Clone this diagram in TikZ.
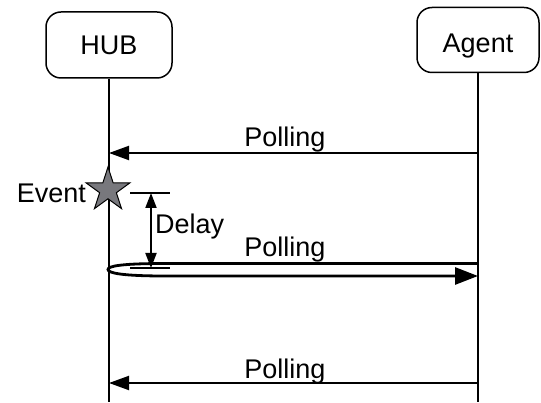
\documentclass[tikz,border=0pt]{standalone}
\usepackage{fontspec}
\setmainfont{Liberation Sans}
\usetikzlibrary{arrows.meta,shapes.geometric}
\begin{document}
\begin{tikzpicture}[x=1pt,y=-1pt,
  every node/.style={font=\fontsize{27}{31}\selectfont, inner sep=0pt},
  actor/.style={draw, rounded corners=15pt, line width=1.5pt},
  lifeline/.style={line width=1.5pt},
  msg/.style={line width=2pt, -{Triangle[length=20pt,width=14pt]}},
  hairpin/.style={line width=2.8pt, -{Triangle[length=23pt,width=17pt]}},
  tick/.style={line width=1.1pt},
  dimarrow/.style={line width=2pt, {Triangle[length=15pt,width=11pt]}-{Triangle[length=15pt,width=11pt]}},
  eventstar/.style={star, star points=5, star point ratio=2.618, minimum size=46pt,
    draw, line width=1pt, fill={rgb,255:red,120;green,120;blue,125}}]
\useasboundingbox (0,0) rectangle (541,403);

% participants
\node[actor, minimum width=126pt, minimum height=66pt, text height=19.5pt, text depth=0pt] (hub) at (109,45) {HUB};
\node[actor, minimum width=122pt, minimum height=65pt, text height=25pt, text depth=0pt] (agent) at (478,40) {Agent};

% time levels
\coordinate (bottom) at (0,402);
\coordinate (l1) at (0,153);
\coordinate (l2a) at (0,263.5);
\coordinate (l2b) at (0,276);
\coordinate (l3) at (0,383);

% lifelines
\coordinate (hubend) at (hub.south |- bottom);
\coordinate (agentend) at (agent.south |- bottom);
\draw[lifeline] (hub.south) -- (hubend);
\draw[lifeline] (agent.south) -- (agentend);

% first polling
\draw[msg] (agent.south |- l1) -- (hub.south |- l1);
\node[anchor=base] (poll1) at (285,147) {Polling};

% event on the hub
\node[eventstar] (event) at (108,190) {};
\node[anchor=base east] (eventlbl) at (86,203) {Event};

% delay dimension
\coordinate (tickAa) at (130,193);
\coordinate (tickAb) at (170,193);
\coordinate (tickBa) at (130,268);
\coordinate (tickBb) at (170,268);
\draw[tick] (tickAa) -- (tickAb);
\draw[tick] (tickBa) -- (tickBb);
\coordinate (dtop) at (151,193);
\coordinate (dbot) at (151,268);
\draw[dimarrow] (dtop) -- (dbot);
\node[anchor=base west] (delaylbl) at (155,234) {Delay};

% immediate polling answered by the hub
\coordinate (bendA) at (165,263.5);
\coordinate (tip) at (108,269.5);
\coordinate (bendB) at (165,276);
\draw[hairpin] (agent.south |- l2a) -- (bendA)
  .. controls (122,263.5) and (108,266) .. (tip)
  .. controls (108,273) and (122,276) .. (bendB)
  -- (agent.south |- l2b);
\node[anchor=base] (poll2) at (285,257) {Polling};

% later polling
\draw[msg] (agent.south |- l3) -- (hub.south |- l3);
\node[anchor=base] (poll3) at (285,378) {Polling};
\end{tikzpicture}
\end{document}
